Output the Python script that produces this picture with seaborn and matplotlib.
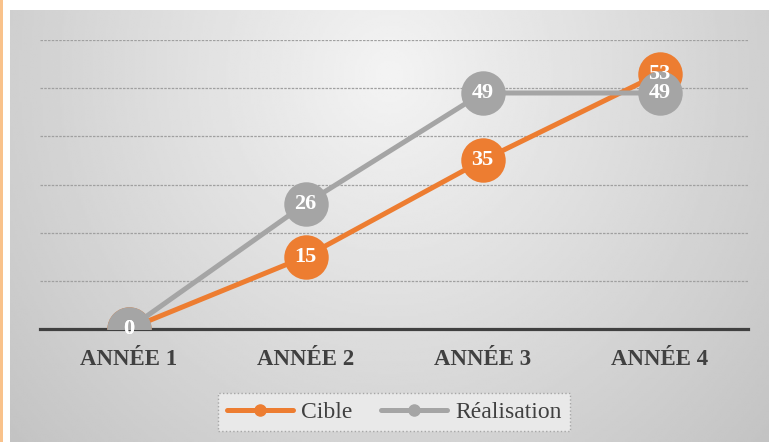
import numpy as np
import pandas as pd
import matplotlib
matplotlib.use("Agg")
import matplotlib.pyplot as plt
from matplotlib.lines import Line2D
import seaborn as sns

# Chart data
years = ["ANNÉE 1", "ANNÉE 2", "ANNÉE 3", "ANNÉE 4"]
cible = [0, 15, 35, 53]
realisation = [0, 26, 49, 49]
series_names = ["Cible", "Réalisation"]
colors = {"Cible": "#ED7D31", "Réalisation": "#A5A5A5"}

sns.set_style("white")
SERIF = ["Liberation Serif", "DejaVu Serif"]
plt.rcParams["font.family"] = SERIF

W, H = 769, 442
fig = plt.figure(figsize=(W / 100, H / 100), dpi=100)
fig.patch.set_facecolor("white")

# Thin orange strip on the left edge
fig.add_artist(plt.Rectangle((0, 0), 2.5 / W, 1, transform=fig.transFigure,
                             color="#F9C28B", lw=0, zorder=0))

# Grey radial-gradient panel behind the chart
bg = fig.add_axes([10 / W, 0, (W - 10) / W, (H - 10) / H], zorder=-5)
ny, nx = 200, 360
yy, xx = np.mgrid[0:1:ny * 1j, 0:1:nx * 1j]
r = np.sqrt(((xx - 0.5) / 0.5) ** 2 + ((yy - 0.15) / 0.95) ** 2) / np.sqrt(2)
shade = np.clip(0.955 - 0.2 * r, 0, 1)
bg.imshow(shade, cmap="gray", vmin=0, vmax=1, aspect="auto",
          extent=[0, 1, 1, 0], interpolation="bilinear")
bg.set_axis_off()

ax = fig.add_axes([40 / W, 113 / H, 708 / W, 289 / H])
ax.patch.set_alpha(0)

df = pd.DataFrame({
    "year": list(range(len(years))) * 2,
    "value": cible + realisation,
    "serie": [series_names[0]] * len(years) + [series_names[1]] * len(years),
})

for name in series_names:
    sub = df[df["serie"] == name]
    sns.lineplot(data=sub, x="year", y="value", ax=ax, color=colors[name],
                 linewidth=3.6, marker="o", markersize=32,
                 markeredgewidth=0, legend=False, zorder=3)

# Value labels centred on the markers
for name, vals in zip(series_names, [cible, realisation]):
    for i, v in enumerate(vals):
        ax.text(i, v, str(v), ha="center", va="center", color="white",
                fontsize=16, fontweight="bold", family=SERIF, zorder=5)

ax.set_xlim(-0.5, 3.5)
ax.set_ylim(0, 60)
ax.set_yticks([10, 20, 30, 40, 50, 60])
ax.yaxis.grid(True, color="#A0A0A0", linewidth=0.9, linestyle=(0, (2, 1)))
ax.set_axisbelow(True)
ax.tick_params(axis="y", left=False, labelleft=False)
ax.set_xticks(range(len(years)))
ax.set_xticklabels(years, fontsize=16.5, fontweight="bold", color="#404040",
                   family=SERIF)
ax.tick_params(axis="x", bottom=False, pad=11)
ax.set_xlabel("")
ax.set_ylabel("")
for s in ["top", "left", "right"]:
    ax.spines[s].set_visible(False)
ax.spines["bottom"].set_color("#404040")
ax.spines["bottom"].set_linewidth(2.3)
ax.spines["bottom"].set_zorder(2)

handles = [Line2D([], [], color=colors[n], linewidth=3.6, marker="o",
                  markersize=8) for n in series_names]
leg = fig.legend(handles, series_names, loc="center",
                 bbox_to_anchor=(394 / W, 1 - 412 / H), ncol=2,
                 prop={"family": SERIF, "size": 17}, frameon=True,
                 fancybox=False, handlelength=2.8, handletextpad=0.35,
                 columnspacing=1.2, borderpad=0.35, borderaxespad=0,
                 labelcolor="#404040")
frame = leg.get_frame()
frame.set_facecolor("#ECECEC")
frame.set_edgecolor("#A0A0A0")
frame.set_linestyle(":")
frame.set_linewidth(1.0)
frame.set_alpha(0.9)

fig.savefig("out.png", dpi=100)
